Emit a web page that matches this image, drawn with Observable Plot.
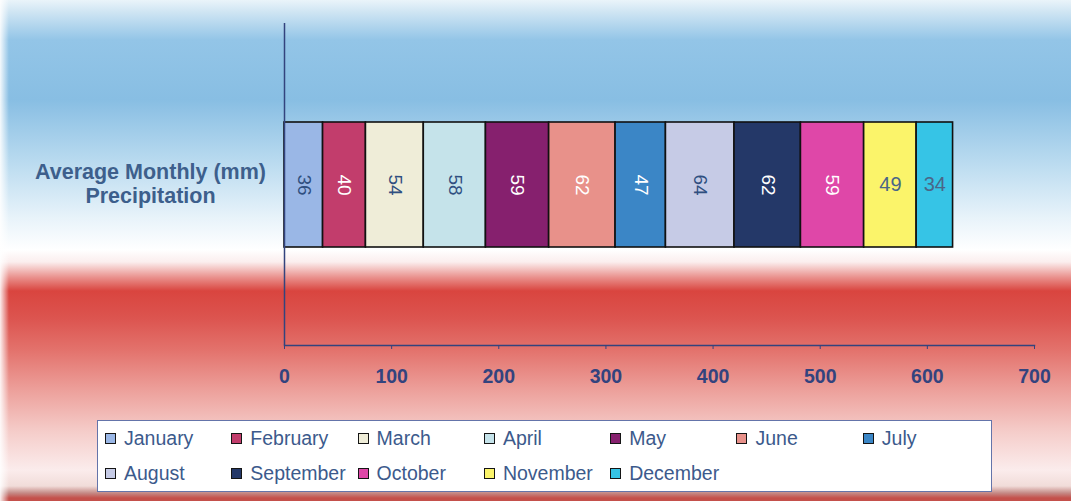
<!DOCTYPE html>
<html>
<head>
<meta charset="utf-8">
<script src="https://cdn.jsdelivr.net/npm/d3@7"></script>
<script src="https://cdn.jsdelivr.net/npm/@observablehq/plot@0.6"></script>
<style>
  html, body { margin: 0; padding: 0; }
  body { width: 1071px; height: 501px; overflow: hidden; font-family: "Liberation Sans", Arial, sans-serif; }
  #chart {
    position: relative;
    width: 1071px;
    height: 501px;
    background:
      linear-gradient(to right, rgba(255,255,255,0.9) 0px, rgba(255,255,255,0) 9px),
      linear-gradient(to bottom,
        #eaf4fa 0px, #cfe5f3 12px, #93c5e7 40px, #88bee3 100px, #bcdcf0 165px,
        #e8f3fa 218px, #ffffff 250px, #fbeeee 262px, #ea938f 277px, #d9453f 291px,
        #dc544f 318px, #e3726c 350px, #eda29d 392px, #f5cdca 432px, #fbecec 470px,
        #f1dcd9 486px, #c58a86 493px, #c4504b 498px, #c4504b 501px);
  }
  #chart svg { position: absolute; left: 0; top: 0; }
  .legend {
    position: absolute;
    left: 97px; top: 420px;
    width: 886px; height: 70px;
    background: #ffffff;
    border: 1px solid #6474aa;
    box-sizing: content-box;
    display: grid;
    grid-template-columns: repeat(7, 126.3px);
    grid-auto-rows: 35px;
    padding-left: 7px;
    color: #3c5a8c;
    font-size: 19.5px;
  }
  .legend .item { display: flex; align-items: center; white-space: nowrap; }
  .legend .sw {
    width: 9px; height: 9px;
    border: 1.6px solid #151515;
    margin-right: 8px;
    flex: none;
  }
</style>
</head>
<body>
<div id="chart"></div>
<script>
// Average monthly precipitation, one stacked bar of twelve months
const series = "Average Monthly (mm)\nPrecipitation";
const months = ["January", "February", "March", "April", "May", "June",
                "July", "August", "September", "October", "November", "December"];
const precipitation = [36, 40, 54, 58, 59, 62, 47, 64, 62, 59, 49, 34];
const xTicks = [0, 100, 200, 300, 400, 500, 600, 700];

// Fill for each month, and the ink used for its value label
const monthColors = ["#9ab7e6", "#c23d6c", "#efedd8", "#c5e3ea", "#86206e", "#e8918a",
                     "#3b86c6", "#c6cbe6", "#243868", "#df47a8", "#fbf46a", "#36c4e6"];
const labelInk = ["dark", "light", "dark", "dark", "light", "light",
                  "light", "dark", "light", "light", "dark", "dark"];
const labelUpright = [false, false, false, false, false, false,
                      false, false, false, false, true, true];

const axisColor = "#33437e";
const darkInk = "#2f4f80";

// Cumulative extents of each month along the bar
let running = 0;
const rows = months.map((month, i) => {
  const value = precipitation[i];
  const row = {month, value, series, x1: running, x2: running + value,
               mid: running + value / 2, ink: labelInk[i], upright: labelUpright[i]};
  running += value;
  return row;
});

const valueText = d => String(d.value);

const plot = Plot.plot({
  width: 1071,
  height: 400,
  marginLeft: 284,
  marginRight: 37,
  marginTop: 23,
  marginBottom: 55,
  style: {background: "transparent", fontFamily: "'Liberation Sans', Arial, sans-serif", overflow: "visible"},
  x: {domain: [0, 700], label: null},
  y: {domain: [series], label: null, padding: 0.44},
  color: {domain: months, range: monthColors},
  marks: [
    Plot.barX(rows, {x1: "x1", x2: "x2", y: "series", fill: "month", stroke: "#111111", strokeWidth: 1.6}),
    Plot.text(rows, {filter: d => !d.upright && d.ink === "light", x: "mid", y: "series",
      text: valueText, rotate: 90, fill: "#ffffff", fontSize: 19}),
    Plot.text(rows, {filter: d => !d.upright && d.ink === "dark", x: "mid", y: "series",
      text: valueText, rotate: 90, fill: darkInk, fontSize: 19}),
    Plot.text(rows, {filter: d => d.upright, x: "mid", y: "series",
      text: valueText, fill: "#4a6688", fontSize: 20}),
    Plot.ruleX([0], {stroke: axisColor, strokeWidth: 1.5}),
    Plot.frame({anchor: "bottom", stroke: axisColor, strokeWidth: 1.5}),
    Plot.axisX({ticks: xTicks, tickSize: 4, tickPadding: 20, fontSize: 19.5, fontWeight: "bold",
      color: axisColor, label: null}),
    Plot.axisY({tickSize: 0, tickPadding: 134, textAnchor: "middle", fontSize: 21.5, fontWeight: "bold",
      lineHeight: 1.16, dy: -2, color: "#3d5f8c", label: null})
  ]
});

const chart = document.getElementById("chart");
chart.appendChild(plot);

// Legend: two rows of swatches in a white box
const legend = d3.select(chart).append("div").attr("class", "legend");
const items = legend.selectAll("div.item").data(months).join("div").attr("class", "item");
items.append("span").attr("class", "sw").style("background", (d, i) => monthColors[i]);
items.append("span").text(d => d);
</script>
</body>
</html>
